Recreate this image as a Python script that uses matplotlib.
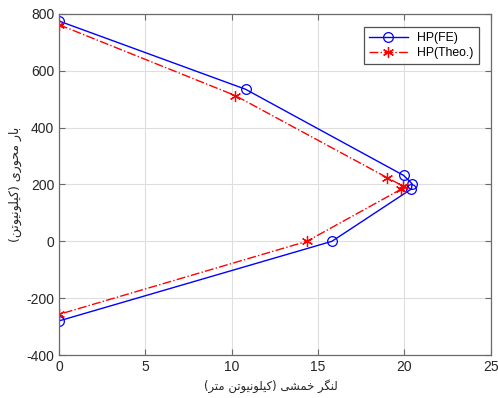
import matplotlib
matplotlib.use("Agg")
import matplotlib.pyplot as plt

# Interaction diagram: bending moment (kN.m) vs axial load (kN)
fe_moment = [0.0, 10.8, 19.95, 20.45, 20.4, 15.8, 0.0]
fe_axial = [775, 535, 232, 202, 184, 0, -280]

theo_moment = [0.0, 10.2, 19.0, 19.9, 19.8, 14.35, 0.0]
theo_axial = [762, 513, 224, 195, 183, 0, -257]

series_labels = ["HP(FE)", "HP(Theo.)"]
x_label = "لنگر خمشی (کیلونیوتن متر)"
y_label = "بار محوری (کیلونیوتن)"

x_ticks = [0, 5, 10, 15, 20, 25]
y_ticks = [-400, -200, 0, 200, 400, 600, 800]

# --- minimal Persian shaping (matplotlib has no complex text layout) ---
FORMS = {
    # char: (isolated, final, initial, medial); None for right-joining only
    "\u0627": ("\uFE8D", "\uFE8E", None, None),
    "\u0628": ("\uFE8F", "\uFE90", "\uFE91", "\uFE92"),
    "\u062A": ("\uFE95", "\uFE96", "\uFE97", "\uFE98"),
    "\u062D": ("\uFEA1", "\uFEA2", "\uFEA3", "\uFEA4"),
    "\u062E": ("\uFEA5", "\uFEA6", "\uFEA7", "\uFEA8"),
    "\u0631": ("\uFEAD", "\uFEAE", None, None),
    "\u0634": ("\uFEB5", "\uFEB6", "\uFEB7", "\uFEB8"),
    "\u0644": ("\uFEDD", "\uFEDE", "\uFEDF", "\uFEE0"),
    "\u0645": ("\uFEE1", "\uFEE2", "\uFEE3", "\uFEE4"),
    "\u0646": ("\uFEE5", "\uFEE6", "\uFEE7", "\uFEE8"),
    "\u0648": ("\uFEED", "\uFEEE", None, None),
    "\u06CC": ("\uFBFC", "\uFBFD", "\uFBFE", "\uFBFF"),
    "\u06A9": ("\uFB8E", "\uFB8F", "\uFB90", "\uFB91"),
    "\u06AF": ("\uFB92", "\uFB93", "\uFB94", "\uFB95"),
}


def joins_left(c):
    return c in FORMS and FORMS[c][2] is not None


def shape(text):
    out = []
    n = len(text)
    for i, c in enumerate(text):
        if c not in FORMS:
            out.append(c)
            continue
        prev_joins = i > 0 and joins_left(text[i - 1])
        next_joins = i + 1 < n and text[i + 1] in FORMS
        iso, fin, ini, med = FORMS[c]
        if prev_joins and next_joins and med:
            out.append(med)
        elif prev_joins:
            out.append(fin)
        elif next_joins and ini:
            out.append(ini)
        else:
            out.append(iso)
    visual = "".join(reversed(out))
    swap = {"(": ")", ")": "("}
    return "".join(swap.get(ch, ch) for ch in visual)


plt.rcParams["font.family"] = ["Liberation Sans", "DejaVu Sans"]
plt.rcParams["axes.unicode_minus"] = False

fig = plt.figure(figsize=(4.98, 3.98), dpi=100)
ax = fig.add_axes([0.1185, 0.108, 0.867, 0.857])

ax.plot(fe_moment, fe_axial, color="#0000ff", linestyle="-", linewidth=1.0,
        marker="o", markersize=7, markerfacecolor="none",
        markeredgecolor="#0000ff", markeredgewidth=0.9, label=series_labels[0])
ax.plot(theo_moment, theo_axial, color="#ff0000", linestyle="-.", linewidth=1.0,
        marker=(6, 2, 0), markersize=8,
        markeredgecolor="#ff0000", markeredgewidth=0.9, label=series_labels[1])

ax.set_xlim(0, 25)
ax.set_ylim(-400, 800)
ax.set_xticks(x_ticks)
ax.set_yticks(y_ticks)

ax.grid(True, color="#dedede", linewidth=0.8)
ax.set_axisbelow(True)
for s in ax.spines.values():
    s.set_color("#6a6a6a")
    s.set_linewidth(0.9)
ax.tick_params(direction="in", top=True, right=True, length=4,
               colors="#6a6a6a", labelcolor="#262626", labelsize=10, pad=3.5)

ax.set_xlabel(shape(x_label), fontsize=8.4, color="#262626",
              family=["DejaVu Sans"])
ax.set_ylabel(shape(y_label), fontsize=9.0, color="#262626",
              family=["DejaVu Sans"])
ax.xaxis.label.set_verticalalignment("center")
ax.yaxis.label.set_verticalalignment("center")
ax.yaxis.label.set_rotation_mode("anchor")
ax.xaxis.set_label_coords(0.49, -0.091)
ax.yaxis.set_label_coords(-0.10, 0.5)

leg = ax.legend(loc="upper right", bbox_to_anchor=(0.972, 0.962),
                fontsize=8.8, frameon=True, fancybox=False, borderpad=0.4,
                handlelength=3.2, labelspacing=0.25, borderaxespad=0.0)
leg.get_frame().set_edgecolor("#262626")
leg.get_frame().set_linewidth(0.9)

fig.savefig("out.png", dpi=100)
